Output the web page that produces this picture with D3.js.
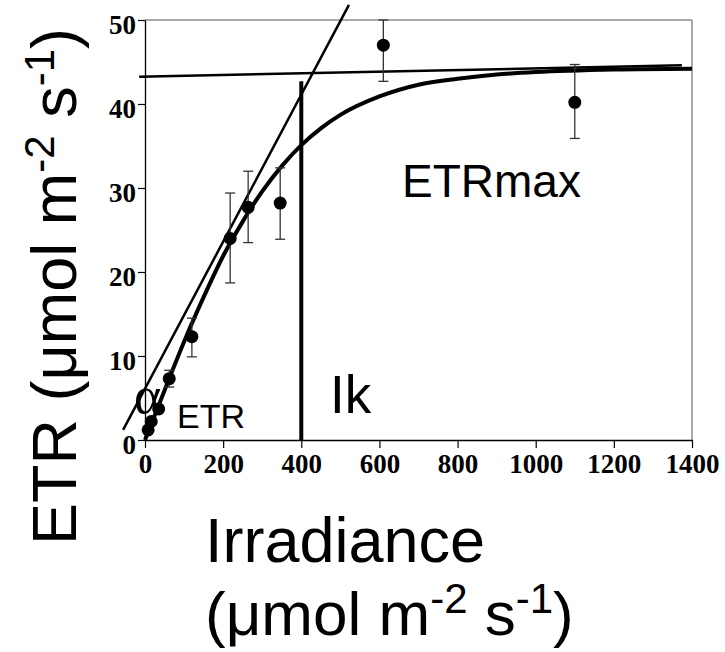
<!DOCTYPE html>
<head>
<meta charset="utf-8">
<style>
    body { margin: 0; background: #fff; }
    text.tick_lab { font-family: "Liberation Serif", "Times New Roman", serif; font-weight: bold; font-size: 27px; }
    text.big { font-family: "Liberation Sans", Arial, sans-serif; }
</style>
<script src="https://d3js.org/d3.v7.min.js"></script>
</head>
<body>
<script>
// measured points with standard error
var irr  = [8, 16, 35, 62, 120, 218, 264, 346, 610, 1100];
var etr  = [1.2, 2.2, 3.7, 7.3, 12.3, 24.0, 27.7, 28.2, 47.0, 40.2];
var errLo = [null, null, null, 6.3, 9.9, 18.7, 23.5, 23.9, 42.7, 35.9];
var errHi = [null, null, null, 8.3, 14.5, 29.4, 32.0, 32.4, 50.0, 44.7];

// fitted curve
var fitI   = [0, 50, 100, 150, 200, 250, 300, 350, 400, 450, 500, 600, 700, 800, 900, 1000, 1200, 1400];
var fitETR = [0, 5.9, 11.7, 17.0, 21.9, 26.0, 29.6, 32.6, 35.1, 37.1, 38.7, 40.9, 42.3, 43.0, 43.5, 43.8, 44.1, 44.2];

// alpha (initial slope) line and ETRmax line end points
var alphaLine = [[-56, 1.2], [522, 51.8]];
var maxLine = [[-15, 43.25], [1374, 44.6]];
var ik = 400, ikTop = 42.7;

var xTicks = [0, 200, 400, 600, 800, 1000, 1200, 1400];
var yTicks = [0, 10, 20, 30, 40, 50];

var margin = {top: 20, left: 145};
var width = 547, height = 420;

var svg = d3.select("body").append("svg")
    .attr("width", 725)
    .attr("height", 652);

var g = svg.append("g")
    .attr("transform", "translate(" + margin.left + "," + margin.top + ")");

var x = d3.scaleLinear().domain([0, 1400]).range([0, width]);
var y = d3.scaleLinear().domain([0, 50]).range([height, 0]);

// frame (top and right)
g.append("path")
    .attr("d", "M0,0H" + width + "V" + height)
    .attr("fill", "none")
    .attr("stroke", "#555")
    .attr("stroke-width", 1);

// axes
var xa = g.append("g")
    .attr("transform", "translate(0," + height + ")")
    .call(d3.axisBottom(x).tickValues(xTicks).tickSize(8).tickSizeOuter(0).tickFormat(d3.format("d")));
var ya = g.append("g")
    .call(d3.axisLeft(y).tickValues(yTicks).tickSize(7).tickSizeOuter(0).tickFormat(d3.format("d")));

[xa, ya].forEach(function(a) {
    a.attr("font-size", null).attr("font-family", null);
    a.select(".domain").attr("stroke", "#000").attr("stroke-width", 1.3);
    a.selectAll(".tick line").attr("stroke", "#000").attr("stroke-width", 1.2);
    a.selectAll(".tick text")
        .attr("class", "tick_lab")
        .attr("fill", "#000");
});
xa.selectAll(".tick text").attr("y", 14).attr("dy", "0.71em");
ya.selectAll(".tick text").attr("x", -9).attr("dy", "0.5em");

var line = d3.line()
    .x(function(d) { return x(d[0]); })
    .y(function(d) { return y(d[1]); });

// initial slope line
g.append("path")
    .attr("d", line(alphaLine))
    .attr("fill", "none")
    .attr("stroke", "#000")
    .attr("stroke-width", 2.5);

// ETRmax line
g.append("path")
    .attr("d", line(maxLine))
    .attr("fill", "none")
    .attr("stroke", "#000")
    .attr("stroke-width", 2.5);

// fitted curve
var curve = d3.line()
    .x(function(d) { return x(d[0]); })
    .y(function(d) { return y(d[1]); })
    .curve(d3.curveMonotoneX);
g.append("path")
    .attr("d", curve(fitI.map(function(d, i) { return [d, fitETR[i]]; })))
    .attr("fill", "none")
    .attr("stroke", "#000")
    .attr("stroke-width", 4);

// Ik vertical
g.append("line")
    .attr("x1", x(ik)).attr("x2", x(ik))
    .attr("y1", y(0)).attr("y2", y(ikTop))
    .attr("stroke", "#000")
    .attr("stroke-width", 4);

// error bars
var pts = irr.map(function(d, i) { return {x: d, y: etr[i], lo: errLo[i], hi: errHi[i]}; });
var eb = g.append("g").selectAll("g")
    .data(pts.filter(function(d) { return d.lo != null; }))
    .enter().append("g")
    .attr("stroke", "#333")
    .attr("stroke-width", 1.3);
eb.append("line")
    .attr("x1", function(d) { return x(d.x); })
    .attr("x2", function(d) { return x(d.x); })
    .attr("y1", function(d) { return y(d.lo); })
    .attr("y2", function(d) { return y(d.hi); });
eb.append("line")
    .attr("x1", function(d) { return x(d.x) - 5; })
    .attr("x2", function(d) { return x(d.x) + 5; })
    .attr("y1", function(d) { return y(d.lo); })
    .attr("y2", function(d) { return y(d.lo); });
eb.append("line")
    .attr("x1", function(d) { return x(d.x) - 5; })
    .attr("x2", function(d) { return x(d.x) + 5; })
    .attr("y1", function(d) { return y(d.hi); })
    .attr("y2", function(d) { return y(d.hi); });

// points
g.append("g").selectAll("circle")
    .data(pts)
    .enter().append("circle")
    .attr("cx", function(d) { return x(d.x); })
    .attr("cy", function(d) { return y(d.y); })
    .attr("r", 6.5)
    .attr("fill", "#000");

// annotations
svg.append("text").attr("class", "big")
    .attr("x", 402).attr("y", 197)
    .attr("font-size", "46px")
    .text("ETRmax");
svg.append("text").attr("class", "big")
    .attr("x", 330).attr("y", 413)
    .attr("font-size", "53px")
    .text("Ik");
svg.append("text").attr("class", "big")
    .attr("x", 177).attr("y", 428)
    .attr("font-size", "34px")
    .text("ETR");
svg.append("text")
    .attr("x", 134).attr("y", 413)
    .attr("font-family", "Liberation Serif, serif")
    .attr("font-size", "52px")
    .text("\u03b1");

// axis titles
var yt = svg.append("text").attr("class", "big")
    .attr("transform", "translate(76,545) rotate(-90)")
    .attr("font-size", "63px");
yt.append("tspan").text("ETR (\u03bcmol m");
yt.append("tspan").attr("font-size", "42px").attr("dy", -22).text("-2");
yt.append("tspan").attr("dy", 22).text(" s");
yt.append("tspan").attr("font-size", "42px").attr("dy", -22).text("-1");
yt.append("tspan").attr("dy", 22).text(")");

svg.append("text").attr("class", "big")
    .attr("x", 205).attr("y", 562)
    .attr("font-size", "63px")
    .text("Irradiance");
var xt = svg.append("text").attr("class", "big")
    .attr("x", 205).attr("y", 635)
    .attr("font-size", "62px");
xt.append("tspan").text("(\u03bcmol m");
xt.append("tspan").attr("font-size", "42px").attr("dy", -22).text("-2");
xt.append("tspan").attr("dy", 22).text(" s");
xt.append("tspan").attr("font-size", "42px").attr("dy", -22).text("-1");
xt.append("tspan").attr("dy", 22).text(")");
</script>
</body>
